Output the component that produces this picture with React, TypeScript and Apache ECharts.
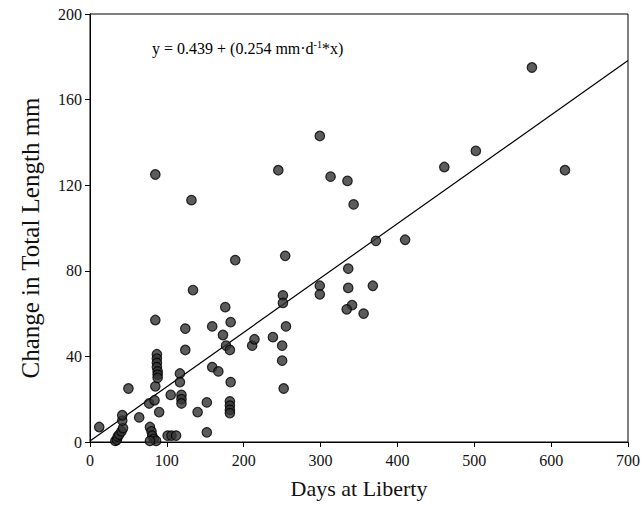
import React, { useEffect, useRef } from "react";
import * as echarts from "echarts";

// Days at liberty (x) and change in total length, mm (y)
const daysAtLiberty: number[] = [
  12, 33, 35, 36, 38, 41, 43, 42, 42, 50,
  64, 77, 84, 78, 80, 81, 83, 86, 78, 85,
  87, 87, 87, 87, 88, 88, 88, 85, 85, 90,
  101, 106, 112, 105, 117, 117, 119, 119, 119, 124,
  124, 132, 134, 140, 152, 152, 159, 159, 167, 173,
  176, 177, 182, 183, 183, 182, 182, 182, 182, 189,
  211, 214, 238, 245, 250, 250, 252, 251, 251, 254,
  255, 299, 299, 299, 313, 335, 343, 336, 336, 341,
  334, 356, 368, 372, 410, 461, 502, 575, 618,
];
const changeInLength: number[] = [
  7, 0.5, 1, 2.5, 3.5, 5, 6.5, 10, 12.5, 25,
  11.5, 18, 19.5, 7, 5, 3, 1.5, 0.5, 0.5, 26,
  41, 39, 37, 35, 33, 31.5, 30, 57, 125, 14,
  3, 3, 3, 22, 32, 28, 22, 20, 18, 53,
  43, 113, 71, 14, 18.5, 4.5, 54, 35, 33, 50,
  63, 45, 43, 56, 28, 19, 17, 15, 13.5, 85,
  45, 48, 49, 127, 45, 38, 25, 68.5, 65, 87,
  54, 143, 73, 69, 124, 122, 111, 81, 72, 64,
  62, 60, 73, 94, 94.5, 128.5, 136, 175, 127,
];

// Fitted regression: y = 0.439 + 0.254 x
const fitIntercept = 0.439;
const fitSlope = 0.254;
const fitRange: number[] = [0, 700];

const xTicks: number[] = [0, 100, 200, 300, 400, 500, 600, 700];
const yTicks: number[] = [0, 40, 80, 120, 160, 200];

const SERIF = "'Liberation Serif', 'DejaVu Serif', serif";

export default function App() {
  const ref = useRef<HTMLDivElement>(null);

  useEffect(() => {
    if (!ref.current) return;
    const chart = echarts.init(ref.current, undefined, { renderer: "svg" });
    const points = daysAtLiberty.map((x, i) => [x, changeInLength[i]]);
    const fitLine = fitRange.map((x) => [x, fitIntercept + fitSlope * x]);

    chart.setOption({
      animation: false,
      backgroundColor: "#ffffff",
      grid: {
        left: 90,
        right: 14,
        top: 14,
        bottom: 79,
        show: true,
        borderColor: "#000",
        borderWidth: 1,
        backgroundColor: "transparent",
      },
      xAxis: {
        type: "value",
        min: xTicks[0],
        max: xTicks[xTicks.length - 1],
        interval: 100,
        axisLine: { show: true, lineStyle: { color: "#000", width: 1 } },
        axisTick: { show: true, inside: false, length: 5, lineStyle: { color: "#000" } },
        splitLine: { show: false },
        axisLabel: { fontFamily: SERIF, fontSize: 16, color: "#111", margin: 10 },
        name: "Days at Liberty",
        nameLocation: "middle",
        nameGap: 35,
        nameTextStyle: { fontFamily: SERIF, fontSize: 22, color: "#111" },
      },
      yAxis: {
        type: "value",
        min: yTicks[0],
        max: yTicks[yTicks.length - 1],
        interval: 40,
        axisLine: { show: true, lineStyle: { color: "#000", width: 1 } },
        axisTick: { show: true, inside: false, length: 5, lineStyle: { color: "#000" } },
        splitLine: { show: false },
        axisLabel: { fontFamily: SERIF, fontSize: 16, color: "#111", margin: 8 },
      },
      graphic: [
        {
          type: "text",
          left: 152,
          top: 39,
          style: {
            text: "{a|y = 0.439 + (0.254 mm·d}{s|-1}{a|*x)}",
            rich: {
              a: { fontFamily: SERIF, fontSize: 16, color: "#111" },
              s: { fontFamily: SERIF, fontSize: 10, color: "#111", padding: [0, 0, 8, 0] },
            },
          },
        },
        {
          type: "text",
          x: 30,
          y: 238,
          rotation: Math.PI / 2,
          style: {
            text: "Change in Total Length mm",
            fontFamily: SERIF,
            fontSize: 25,
            fill: "#111",
            align: "center",
            verticalAlign: "middle",
          },
        },
      ],
      series: [
        {
          type: "line",
          data: fitLine,
          showSymbol: false,
          lineStyle: { color: "#000", width: 1.2 },
          z: 1,
        },
        {
          type: "scatter",
          data: points,
          symbol: "circle",
          symbolSize: 9.5,
          itemStyle: { color: "#333333", borderColor: "#000", borderWidth: 1.2 },
          z: 2,
        },
      ],
    });

    return () => chart.dispose();
  }, []);

  return (
    <div
      ref={ref}
      style={{ position: "fixed", left: 0, top: 0, width: 643, height: 521 }}
    />
  );
}
